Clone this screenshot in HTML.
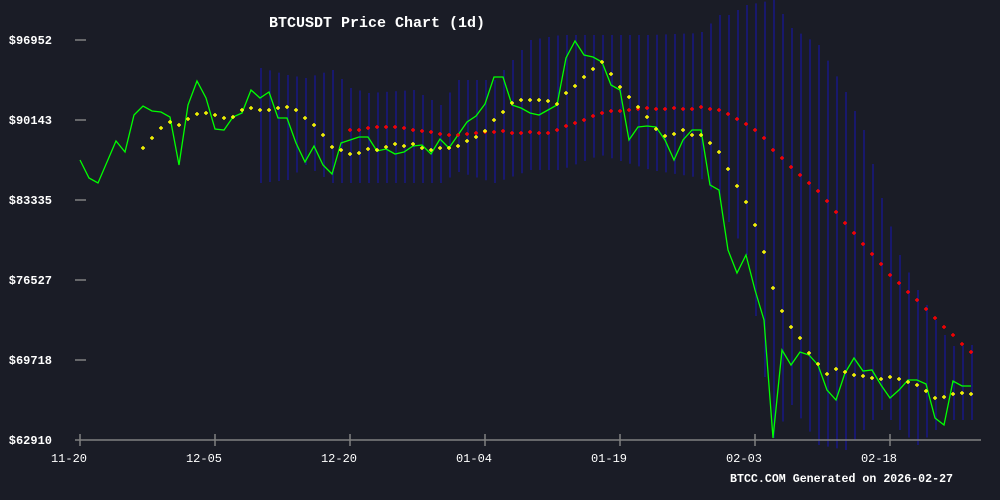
<!DOCTYPE html>
<html><head><meta charset="utf-8"><style>
html,body{margin:0;padding:0;background:#1a1c26;}
svg{display:block}
text{font-family:"Liberation Mono","DejaVu Sans Mono",monospace;fill:#fff}
</style></head><body>
<svg id="s" width="1000" height="500" viewBox="0 0 1000 500" xmlns="http://www.w3.org/2000/svg">
<rect width="1000" height="500" fill="#1a1c26"/>
<g id="bands" stroke="#18188c" stroke-width="1.4"></g>
<g stroke="#808080" stroke-width="1.5">
<line x1="75" y1="40" x2="86" y2="40"/><line x1="75" y1="120" x2="86" y2="120"/>
<line x1="75" y1="200" x2="86" y2="200"/><line x1="75" y1="280" x2="86" y2="280"/>
<line x1="75" y1="360" x2="86" y2="360"/>
<line x1="75" y1="440" x2="981" y2="440"/>
<line x1="80" y1="434" x2="80" y2="446"/><line x1="215" y1="434" x2="215" y2="446"/>
<line x1="350" y1="434" x2="350" y2="446"/><line x1="485" y1="434" x2="485" y2="446"/>
<line x1="620" y1="434" x2="620" y2="446"/><line x1="755" y1="434" x2="755" y2="446"/>
<line x1="890" y1="434" x2="890" y2="446"/>
</g>
<g font-size="12" font-weight="bold" text-anchor="end">
<text x="52" y="44">$96952</text><text x="52" y="124">$90143</text>
<text x="52" y="204">$83335</text><text x="52" y="284">$76527</text>
<text x="52" y="364">$69718</text><text x="52" y="444">$62910</text>
</g>
<g font-size="12" text-anchor="middle">
<text x="69" y="462">11-20</text><text x="204" y="462">12-05</text>
<text x="339" y="462">12-20</text><text x="474" y="462">01-04</text>
<text x="609" y="462">01-19</text><text x="744" y="462">02-03</text>
<text x="879" y="462">02-18</text>
</g>
<text x="377" y="27" font-size="15" font-weight="bold" text-anchor="middle">BTCUSDT Price Chart (1d)</text>
<text x="730" y="482" font-size="12" font-weight="bold" textLength="223" lengthAdjust="spacingAndGlyphs">BTCC.COM Generated on 2026-02-27</text>
<polyline id="g" fill="none" stroke="#00ff00" stroke-width="1.3"/>
<g id="dots" stroke-width="1.4"></g>
</svg>
<script>
var NS="http://www.w3.org/2000/svg";
var green=[[80,160],[89,178],[98,183],[107,162],[116,141],[125,152],[134,115],[143,106],[152,111],[161,112],[170,117],[179,165],[188,105],[197,81],[206,98],[215,129],[224,130],[233,117],[242,113],[251,90],[260,98],[269,92],[278,118],[287,118],[296,143],[305,162],[314,146],[323,165],[332,174],[341,143],[350,140],[359,137],[368,137],[377,151],[386,149],[395,154],[404,152],[413,146],[422,145],[431,154],[440,139],[449,148],[458,135],[467,122],[476,116],[485,104],[494,77],[503,77],[512,105],[521,108],[530,113],[539,115],[548,110],[557,105],[566,58],[575,41],[584,55],[593,57],[602,62],[611,85],[620,90],[629,140],[638,127],[647,126],[656,127],[665,140],[674,160],[683,140],[692,130],[701,130],[710,185],[719,190],[728,250],[737,273],[746,255],[755,290],[764,320],[773,438],[782,350],[791,365],[800,352],[809,355],[818,365],[827,390],[836,400],[845,373],[854,358],[863,371],[872,370],[881,385],[890,398],[899,390],[908,380],[917,380],[926,384],[935,418],[944,425],[953,381],[962,386],[971,386]];
document.getElementById('g').setAttribute('points',green.map(function(p){return p.join(',')}).join(' '));
var yel=[[143,148],[152,138],[161,128],[170,122],[179,125],[188,119],[197,114],[206,113],[215,115],[224,118],[233,117],[242,110],[251,108],[260,110],[269,110],[278,108],[287,107],[296,110],[305,118],[314,125],[323,135],[332,147],[341,150],[350,154],[359,153],[368,149],[377,150],[386,147],[395,144],[404,146],[413,144],[422,148],[431,150],[440,148],[449,148],[458,146],[467,141],[476,137],[485,131],[494,120],[503,112],[512,103],[521,100],[530,100],[539,100],[548,101],[557,104],[566,93],[575,86],[584,77],[593,69],[602,62],[611,74],[620,87],[629,97],[638,107],[647,117],[656,129],[665,136],[674,134],[683,130],[692,135],[701,135],[710,143],[719,152],[728,169],[737,186],[746,202],[755,225],[764,252],[773,288],[782,311],[791,327],[800,338],[809,353],[818,364],[827,374],[836,369],[845,372],[854,375],[863,376],[872,378],[881,379],[890,377],[899,379],[908,382],[917,385],[926,391],[935,398],[944,397],[953,394],[962,393],[971,394]];
var red=[[350,130],[359,130],[368,128],[377,127],[386,127],[395,127],[404,128],[413,130],[422,131],[431,132],[440,134],[449,135],[458,135],[467,134],[476,133],[485,132],[494,132],[503,131],[512,133],[521,133],[530,132],[539,133],[548,133],[557,130],[566,126],[575,123],[584,120],[593,116],[602,113],[611,111],[620,111],[629,110],[638,109],[647,108],[656,109],[665,109],[674,108],[683,109],[692,109],[701,107],[710,109],[719,110],[728,114],[737,119],[746,124],[755,130],[764,138],[773,150],[782,158],[791,167],[800,175],[809,183],[818,191],[827,201],[836,212],[845,223],[854,233],[863,244],[872,254],[881,264],[890,275],[899,283],[908,292],[917,300],[926,309],[935,318],[944,327],[953,335],[962,344],[971,352]];
var bandKeys=[[260,68,183],[287,75,180],[305,78,165],[332,70,183],[350,88,183],[368,93,183],[413,90,183],[440,105,183],[458,80,172],[494,80,183],[530,40,170],[560,35,170],[600,35,155],[650,35,170],[700,33,178],[719,15,200],[728,15,222],[746,5,255],[773,0,438],[791,28,405],[818,45,445],[845,92,450],[863,130,430],[881,198,410],[899,255,430],[917,290,445],[935,320,430],[944,335,400],[953,346,420],[971,345,420]];
function interp(x,k){for(var i=0;i<bandKeys.length-1;i++){var a=bandKeys[i],b=bandKeys[i+1];if(x>=a[0]&&x<=b[0]){var t=(x-a[0])/(b[0]-a[0]);return a[k]+(b[k]-a[k])*t;}}return bandKeys[bandKeys.length-1][k];}
var bg=document.getElementById('bands');
for(var x=260;x<=971;x+=9){var l=document.createElementNS(NS,'line');l.setAttribute('x1',x+1);l.setAttribute('x2',x+1);l.setAttribute('y1',interp(x,1));l.setAttribute('y2',interp(x,2));bg.appendChild(l);}
var dg=document.getElementById('dots');
function plus(p,c){var s=document.createElementNS(NS,'path');s.setAttribute('d','M'+(p[0]-2)+' '+p[1]+'h4M'+p[0]+' '+(p[1]-2)+'v4');s.setAttribute('stroke',c);dg.appendChild(s);}
red.forEach(function(p){plus(p,'#ff0000')});
yel.forEach(function(p){plus(p,'#ffff00')});
</script>
</body></html>
